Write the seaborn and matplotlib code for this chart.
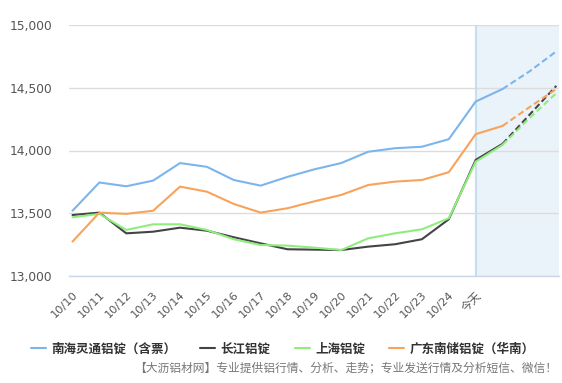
import numpy as np
import pandas as pd
import matplotlib
matplotlib.use("Agg")
import matplotlib.pyplot as plt
import seaborn as sns

# ---------- DATA ----------------------------------------------------------
dates = ["10/10", "10/11", "10/12", "10/13", "10/14", "10/15", "10/16", "10/17",
         "10/18", "10/19", "10/20", "10/21", "10/22", "10/23", "10/24", "今天",
         "", "", ""]

nanhai = [13520, 13745, 13715, 13760, 13900, 13870, 13765, 13720, 13790, 13850,
          13900, 13990, 14018, 14030, 14090, 14390, 14490, 14630, 14790]
changjiang = [13486, 13505, 13340, 13353, 13385, 13361, 13309, 13260, 13213, 13210,
              13207, 13234, 13253, 13293, 13452, 13925, 14053, 14284, 14515]
shanghai = [13468, 13495, 13367, 13412, 13412, 13367, 13293, 13247, 13242, 13226,
            13207, 13300, 13340, 13372, 13460, 13911, 14045, 14258, 14457]
guangdong = [13274, 13505, 13495, 13520, 13712, 13672, 13574, 13505, 13540, 13595,
             13646, 13725, 13752, 13765, 13827, 14130, 14196, 14345, 14490]

series_names = ["南海灵通铝锭（含票）", "长江铝锭", "上海铝锭", "广东南储铝锭（华南）"]
series_vals = [nanhai, changjiang, shanghai, guangdong]
colors = ["#7cb5ec", "#434348", "#90ed7d", "#f7a35c"]

today_idx = 15
solid_end = 16   # solid up to here, dashed forecast afterwards

# ---------- PLOT ----------------------------------------------------------
sns.set_style("white")
plt.rcParams["font.family"] = ["DejaVu Sans", "Noto Sans CJK SC"]

fig = plt.figure(figsize=(5.62, 3.83), dpi=100)
ax = fig.add_axes([69 / 562, 1 - 276 / 383, (559 - 69) / 562, (276 - 25) / 383])

x = np.arange(len(dates))
ax.axvspan(today_idx, len(dates) - 0.9, color="#ebf3fa", zorder=0, lw=0)
ax.axvline(today_idx, color="#c4dfee", lw=1.5, zorder=1)

for name, vals, c in zip(series_names, series_vals, colors):
    df = pd.DataFrame({"x": x, "y": vals})
    sns.lineplot(data=df.iloc[: solid_end + 1], x="x", y="y", ax=ax, color=c,
                 linewidth=1.5, label=name, zorder=3)
    sns.lineplot(data=df.iloc[solid_end:], x="x", y="y", ax=ax, color=c,
                 linewidth=1.5, dashes=False, zorder=3).lines[-1].set_dashes([3, 1.6])

ax.set_xlim(-0.13, len(dates) - 0.9)
ax.set_ylim(13000, 15000)
ax.set_yticks([13000, 13500, 14000, 14500, 15000])
ax.set_yticklabels([f"{v:,}" for v in [13000, 13500, 14000, 14500, 15000]])
ax.set_xticks(x)
ax.set_xticklabels(dates, rotation=45, ha="right", va="top", rotation_mode="anchor")
ax.set_xlabel("")
ax.set_ylabel("")

ax.grid(axis="y", color="#dcdcdc", linewidth=1)
ax.set_axisbelow(True)
for s in ["top", "right", "left"]:
    ax.spines[s].set_visible(False)
ax.spines["bottom"].set_color("#ccd6eb")
ax.spines["bottom"].set_linewidth(1)
ax.tick_params(axis="x", length=7, color="#ccd6eb", labelsize=8.2,
               labelcolor="#555555", pad=3)
ax.tick_params(axis="y", length=0, labelsize=8.8, labelcolor="#555555", pad=12)

ax.get_legend().remove()
handles, labels = ax.get_legend_handles_labels()
fig.legend(handles, labels, loc="center", bbox_to_anchor=(0.503, 1 - 349 / 383),
           ncol=4, frameon=False, handlelength=1.2, handletextpad=0.45,
           columnspacing=1.9, prop={"weight": "bold", "size": 9})
for t in fig.legends[0].get_texts():
    t.set_color("#333333")

fig.text(557 / 562, 1 - 368 / 383,
         "【大沥铝材网】专业提供铝行情、分析、走势；专业发送行情及分析短信、微信！",
         ha="right", va="center", fontsize=8.5, color="#777777")

fig.savefig("out.png", dpi=100)
